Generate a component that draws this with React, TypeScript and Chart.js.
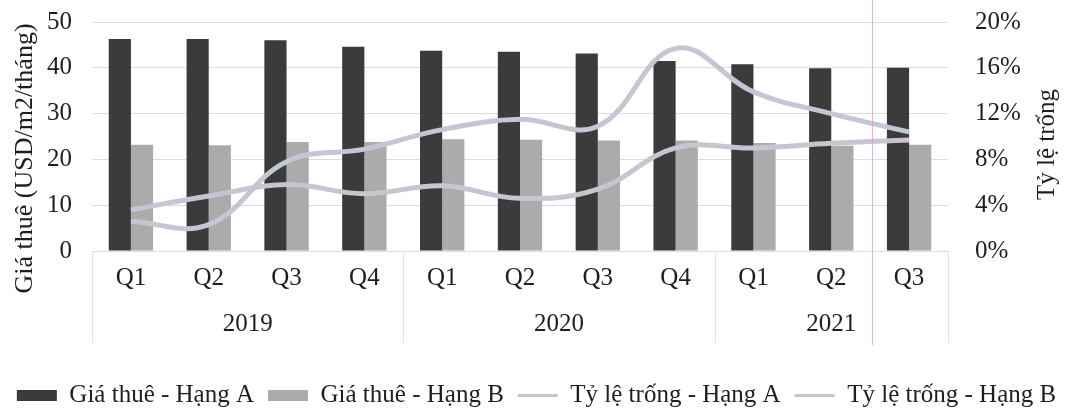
import React, { useEffect, useRef } from 'react';
import { Chart, registerables } from 'chart.js';

Chart.register(...registerables);

const quarters = ['Q1', 'Q2', 'Q3', 'Q4', 'Q1', 'Q2', 'Q3', 'Q4', 'Q1', 'Q2', 'Q3'];
const years = ['2019', '2020', '2021'];
const quartersPerYear = [4, 4, 3];

const rentA = [46.3, 46.3, 46.0, 44.6, 43.7, 43.5, 43.1, 41.5, 40.8, 39.9, 40.0];
const rentB = [23.2, 23.1, 23.8, 23.8, 24.4, 24.3, 24.1, 24.1, 23.6, 23.0, 23.2];
const vacancyA = [2.6, 2.3, 7.8, 8.9, 10.6, 11.5, 10.9, 17.7, 13.9, 12.0, 10.4];
const vacancyB = [3.6, 4.8, 5.8, 5.0, 5.7, 4.6, 5.4, 9.0, 9.0, 9.4, 9.7];

const seriesNames = ['Giá thuê - Hạng A', 'Giá thuê - Hạng B', 'Tỷ lệ trống - Hạng A', 'Tỷ lệ trống - Hạng B'];
const leftTitle = 'Giá thuê (USD/m2/tháng)';
const rightTitle = 'Tỷ lệ trống';

const FONT = '"Liberation Serif", Tinos, "Times New Roman", serif';
const TEXT = '#1e1e1e';
const GRID = '#dcdcdc';

const decorPlugin = {
  id: 'decor',
  afterDraw(chart: any) {
    const { ctx, chartArea, scales } = chart;
    const xs = scales.x;
    const step = xs.getPixelForValue(1) - xs.getPixelForValue(0);
    ctx.save();
    ctx.font = `25px ${FONT}`;
    ctx.fillStyle = TEXT;
    ctx.textAlign = 'center';
    ctx.textBaseline = 'middle';
    ctx.strokeStyle = '#e4e4e4';
    ctx.lineWidth = 1;
    const sepTop = chartArea.bottom;
    const sepBottom = chartArea.bottom + 92;
    const drawSep = (px: number) => {
      ctx.beginPath();
      ctx.moveTo(Math.round(px) + 0.5, sepTop);
      ctx.lineTo(Math.round(px) + 0.5, sepBottom);
      ctx.stroke();
    };
    let idx = 0;
    drawSep(chartArea.left);
    years.forEach((yr, g) => {
      const first = idx;
      const last = idx + quartersPerYear[g] - 1;
      const cx = (xs.getPixelForValue(first) + xs.getPixelForValue(last)) / 2;
      ctx.fillText(yr, cx, chartArea.bottom + 73);
      drawSep(xs.getPixelForValue(last) + step / 2);
      idx = last + 1;
    });
    // axis titles
    const midY = (chartArea.top + chartArea.bottom) / 2;
    ctx.font = `26px ${FONT}`;
    ctx.save();
    ctx.translate(chartArea.left - 67, midY + 22);
    ctx.rotate(-Math.PI / 2);
    ctx.fillText(leftTitle, 0, 0);
    ctx.restore();
    ctx.font = `25px ${FONT}`;
    ctx.save();
    ctx.translate(chartArea.right + 99, midY + 8);
    ctx.rotate(-Math.PI / 2);
    ctx.fillText(rightTitle, 0, 0);
    ctx.restore();
    // scan artefact: faint pink vertical line
    ctx.strokeStyle = 'rgba(214,150,214,0.7)';
    ctx.beginPath();
    ctx.moveTo(872.5, 0);
    ctx.lineTo(872.5, 345);
    ctx.stroke();
    ctx.restore();
  },
};

export default function App() {
  const ref = useRef<HTMLCanvasElement | null>(null);
  useEffect(() => {
    if (!ref.current) return;
    const chart = new Chart(ref.current, {
      type: 'bar',
      data: {
        labels: quarters,
        datasets: [
          {
            type: 'bar',
            label: seriesNames[0],
            data: rentA,
            backgroundColor: '#3b3b3b',
            borderWidth: 0,
            yAxisID: 'y',
            order: 2,
            pointStyle: 'rect',
          } as any,
          {
            type: 'bar',
            label: seriesNames[1],
            data: rentB,
            backgroundColor: '#ababab',
            borderWidth: 0,
            yAxisID: 'y',
            order: 2,
            pointStyle: 'rect',
          } as any,
          {
            type: 'line',
            label: seriesNames[2],
            data: vacancyA,
            borderColor: '#c3c7d3',
            backgroundColor: '#c3c7d3',
            borderWidth: 5,
            pointRadius: 0,
            tension: 0.4,
            yAxisID: 'y1',
            order: 1,
            pointStyle: 'line',
          } as any,
          {
            type: 'line',
            label: seriesNames[3],
            data: vacancyB,
            borderColor: '#c9c4cf',
            backgroundColor: '#c9c4cf',
            borderWidth: 5,
            pointRadius: 0,
            tension: 0.4,
            yAxisID: 'y1',
            order: 1,
            pointStyle: 'line',
          } as any,
        ],
      },
      options: {
        animation: false,
        responsive: true,
        maintainAspectRatio: false,
        layout: { padding: { top: 0, bottom: -3, left: 0, right: 0 } },
        datasets: {
          bar: { barPercentage: 1, categoryPercentage: 0.57 },
        },
        plugins: {
          tooltip: { enabled: false },
          legend: {
            position: 'bottom',
            labels: {
              usePointStyle: true,
              pointStyleWidth: 40,
              boxHeight: 11,
              padding: 14,
              color: TEXT,
              font: { family: FONT, size: 25 },
              sort: (a: any, b: any) => a.datasetIndex - b.datasetIndex,
              generateLabels: (c: any) => {
                const items = (Chart.defaults.plugins.legend.labels as any).generateLabels(c);
                return items.map((it: any) => (it.pointStyle === 'line' ? { ...it, lineWidth: 3 } : it));
              },
            },
          },
        },
        scales: {
          x: {
            grid: { display: false, drawTicks: false },
            border: { display: true, color: GRID },
            ticks: { color: TEXT, font: { family: FONT, size: 25 }, padding: 12, maxRotation: 0, autoSkip: false },
            afterFit: (s: any) => {
              s.height = 118;
            },
          },
          y: {
            position: 'left',
            min: 0,
            max: 50,
            ticks: { stepSize: 10, color: TEXT, font: { family: FONT, size: 25 }, padding: 20 },
            grid: { color: GRID, drawTicks: false },
            border: { display: false },
            afterFit: (s: any) => {
              s.width = 92;
              s.paddingTop = 22;
              s.paddingBottom = 0;
            },
          },
          y1: {
            position: 'right',
            min: 0,
            max: 20,
            ticks: {
              stepSize: 4,
              color: TEXT,
              font: { family: FONT, size: 25 },
              padding: 27,
              callback: (v: any) => `${v}%`,
            },
            grid: { display: false, drawTicks: false },
            border: { display: false },
            afterFit: (s: any) => {
              s.width = 125;
              s.paddingTop = 22;
              s.paddingBottom = 0;
            },
          },
        },
      } as any,
      plugins: [decorPlugin],
    });
    return () => chart.destroy();
  }, []);
  return (
    <div style={{ position: 'absolute', left: 0, top: 0, width: 1073, height: 415, background: '#fff' }}>
      <canvas ref={ref} />
    </div>
  );
}
